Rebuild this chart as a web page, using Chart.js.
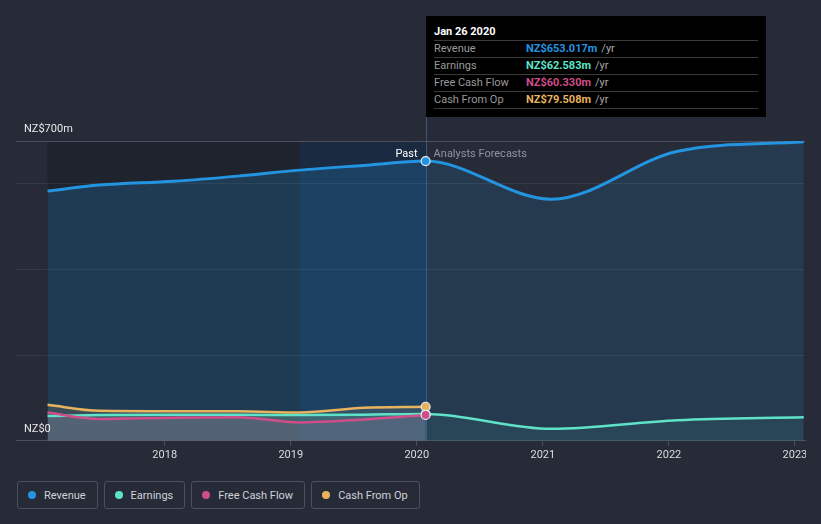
<!DOCTYPE html>
<html>
<head>
<meta charset="utf-8">
<script src="https://cdn.jsdelivr.net/npm/chart.js@4.4.0/dist/chart.umd.min.js"></script>
<style>
    body { margin: 0; background: #262b37; font-family: Roboto, "Noto Sans", sans-serif; }
    #wrap { position: relative; width: 821px; height: 524px; overflow: hidden; }
    #clip { position: absolute; left: 0; top: 0; width: 806px; height: 470px; overflow: hidden; }
    #chartBox { position: absolute; left: 0; top: 0; width: 821px; height: 470px; }
    #tip { position: absolute; top: 16px; left: 425px; width: 340px; height: 101px; background: #000;
           box-sizing: border-box; padding: 7px 8px 0 8px; font-size: 11px; color: #fff; }
    #tip .title { height: 17px; line-height: 17px; font-weight: bold; }
    #tip .row { display: flex; height: 16px; line-height: 16px; border-top: 1px solid #3a3a3a; }
    #tip .row:last-child { border-bottom: 1px solid #3a3a3a; }
    #tip .lbl { width: 92px; color: #9a9a9a; }
    #tip .val { font-weight: bold; }
    #tip .unit { color: #a8a8a8; margin-left: 4px; }
    #legend { position: absolute; left: 17px; top: 481px; display: flex; gap: 6px; }
    .item { height: 28px; border: 1px solid #4a505c; border-radius: 3px; box-sizing: border-box;
            display: flex; align-items: center; padding: 0 11px 0 10px; color: #cfd2d8; font-size: 11px; }
    .dot { width: 8px; height: 8px; border-radius: 50%; margin-right: 8px; }
</style>
</head>
<body>
<div id="wrap">
    <div id="clip"><div id="chartBox"><canvas id="chart"></canvas></div></div>
    <div id="tip"></div>
    <div id="legend"></div>
</div>
<script>
// decimal years for each point; index 6 is the last reported (Jan 26 2020), after that analyst forecasts
const years = [2017.07, 2017.48, 2018.07, 2018.58, 2019.07, 2019.58, 2020.07, 2021.07, 2022.07, 2023.07];
const revenue = [583, 597, 606, 618, 632, 643, 653.017, 564, 676, 698];
const earnings = [58, 60, 61, 61, 60, 61, 62.583, 28, 48, 55];
const freeCashFlow = [66, 51, 54, 55, 43, 50, 60.33];
const cashFromOp = [84, 70, 69, 69, 66, 77, 79.508];
const yearTicks = [2018, 2019, 2020, 2021, 2022, 2023];
const yTicks = [0, 200, 400, 600, 700];
const seriesNames = ["Revenue", "Earnings", "Free Cash Flow", "Cash From Op"];
const colors = ["#2394e0", "#5fe3c8", "#cf4d89", "#e8b35f"];
const pastEnd = 6;
const tipDate = "Jan 26 2020";

const pts = arr => arr.map((v, i) => ({x: years[i], y: v}));

// past part of fill in one alpha, forecast part in another
function splitFill(ctx, rgb, aPast, aFut) {
    const chart = ctx.chart;
    const area = chart.chartArea;
    if (!area) return 'rgba(' + rgb + ',' + aPast + ')';
    const xs = chart.scales.x;
    const cut = (xs.getPixelForValue(years[pastEnd]) - area.left) / (area.right - area.left);
    const g = chart.ctx.createLinearGradient(area.left, 0, area.right, 0);
    g.addColorStop(0, 'rgba(' + rgb + ',' + aPast + ')');
    g.addColorStop(cut, 'rgba(' + rgb + ',' + aPast + ')');
    g.addColorStop(Math.min(cut + 0.0001, 1), 'rgba(' + rgb + ',' + aFut + ')');
    g.addColorStop(1, 'rgba(' + rgb + ',' + aFut + ')');
    return g;
}

const endDot = ctx => ctx.dataIndex === pastEnd ? 4.5 : 0;

const backdrop = {
    id: 'backdrop',
    beforeDraw(chart) {
        const {ctx, chartArea: a, scales: {x}} = chart;
        const xStart = x.getPixelForValue(years[0]);
        const xEnd = x.getPixelForValue(years[pastEnd]);
        const xBand = x.getPixelForValue(years[pastEnd] - 1);
        ctx.save();
        ctx.fillStyle = '#1e232d';
        ctx.fillRect(xStart, a.top, xEnd - xStart, a.bottom - a.top);
        ctx.fillStyle = '#1a2a40';
        ctx.fillRect(xBand, a.top, xEnd - xBand, a.bottom - a.top);
        ctx.restore();
    },
    beforeDatasetsDraw(chart) {
        const {ctx, chartArea: a, scales: {x, y}} = chart;
        const xEnd = x.getPixelForValue(years[pastEnd]);
        ctx.save();
        ctx.strokeStyle = 'rgba(70,105,160,0.7)';
        ctx.lineWidth = 1;
        ctx.beginPath();
        ctx.moveTo(Math.round(xEnd) + 0.5, 16);
        ctx.lineTo(Math.round(xEnd) + 0.5, a.bottom);
        ctx.stroke();

        ctx.font = '11px Roboto, sans-serif';
        ctx.textBaseline = 'middle';
        ctx.fillStyle = '#e8e8e8';
        ctx.textAlign = 'left';
        ctx.fillText('NZ$700m', 24, y.getPixelForValue(700) - 12);
        ctx.fillText('NZ$0', 24, y.getPixelForValue(0) - 12);
        ctx.fillStyle = '#ffffff';
        ctx.textAlign = 'right';
        ctx.fillText('Past', xEnd - 8, y.getPixelForValue(700) + 13);
        ctx.fillStyle = '#8e95a2';
        ctx.textAlign = 'left';
        ctx.fillText('Analysts Forecasts', xEnd + 8, y.getPixelForValue(700) + 13);
        ctx.restore();
    }
};

document.addEventListener('DOMContentLoaded', () => {
    const chart = new Chart("chart", {
        type: "line",
        data: {
            datasets: [
                {
                    label: seriesNames[0], data: pts(revenue), borderColor: colors[0], borderWidth: 3,
                    backgroundColor: ctx => splitFill(ctx, '35,148,224', 0.21, 0.15), fill: 'origin', order: 0
                },
                {
                    label: seriesNames[2], data: pts(freeCashFlow), borderColor: colors[2], borderWidth: 2.5,
                    backgroundColor: 'rgba(207,77,137,0.18)', fill: 'origin', order: 1
                },
                {
                    label: seriesNames[3], data: pts(cashFromOp), borderColor: colors[3], borderWidth: 2.5,
                    backgroundColor: 'rgba(232,179,95,0.16)', fill: 'origin', order: 2
                },
                {
                    label: seriesNames[1], data: pts(earnings), borderColor: colors[1], borderWidth: 2.5,
                    backgroundColor: ctx => splitFill(ctx, '95,227,200', 0.18, 0.07), fill: 'origin', order: 3
                }
            ].map(d => Object.assign(d, {
                cubicInterpolationMode: 'monotone',
                pointRadius: endDot,
                pointHoverRadius: endDot,
                pointBackgroundColor: d.borderColor,
                pointBorderColor: '#e8ecf2',
                pointBorderWidth: 1.2
            }))
        },
        plugins: [backdrop],
        options: {
            responsive: true,
            maintainAspectRatio: false,
            animation: false,
            events: [],
            layout: {padding: {left: 16, right: 16, top: 141, bottom: 5}},
            plugins: {
                legend: {display: false},
                tooltip: {enabled: false},
                filler: {drawTime: 'beforeDatasetsDraw'}
            },
            scales: {
                x: {
                    type: 'linear',
                    min: 2016.82,
                    max: 2023.08,
                    afterBuildTicks: s => { s.ticks = yearTicks.map(v => ({value: v})); },
                    ticks: {
                        color: '#dcdcdc', font: {family: 'Roboto', size: 11}, padding: 3,
                        maxRotation: 0, autoSkip: false,
                        callback: v => String(v)
                    },
                    grid: {drawOnChartArea: false, drawTicks: true, tickLength: 5, color: '#4a505c'},
                    border: {color: '#4a505c', width: 1}
                },
                y: {
                    min: 0,
                    max: 700,
                    afterBuildTicks: s => { s.ticks = yTicks.map(v => ({value: v})); },
                    ticks: {display: false},
                    grid: {
                        drawTicks: false,
                        color: c => c.tick.value === 700 ? '#4b505c' : (c.tick.value === 0 ? 'rgba(0,0,0,0)' : 'rgba(255,255,255,0.07)')
                    },
                    border: {display: false}
                }
            }
        }
    });

    // tooltip box for the last reported point
    const vals = [revenue, earnings, freeCashFlow, cashFromOp];
    let html = `<div class="title">${tipDate}</div>`;
    seriesNames.forEach((name, i) => {
        html += `<div class="row"><span class="lbl">${name}</span>` +
            `<span class="val" style="color:${colors[i]}">NZ$${vals[i][pastEnd].toFixed(3)}m</span>` +
            `<span class="unit">/yr</span></div>`;
    });
    const tip = document.querySelector('#tip');
    tip.innerHTML = html;
    tip.style.left = Math.round(chart.scales.x.getPixelForValue(years[pastEnd])) + 'px';

    const legend = document.querySelector('#legend');
    seriesNames.forEach((name, i) => {
        const item = document.createElement('div');
        item.className = 'item';
        item.innerHTML = `<span class="dot" style="background:${colors[i]}"></span>${name}`;
        legend.appendChild(item);
    });
});
</script>
</body>
</html>
